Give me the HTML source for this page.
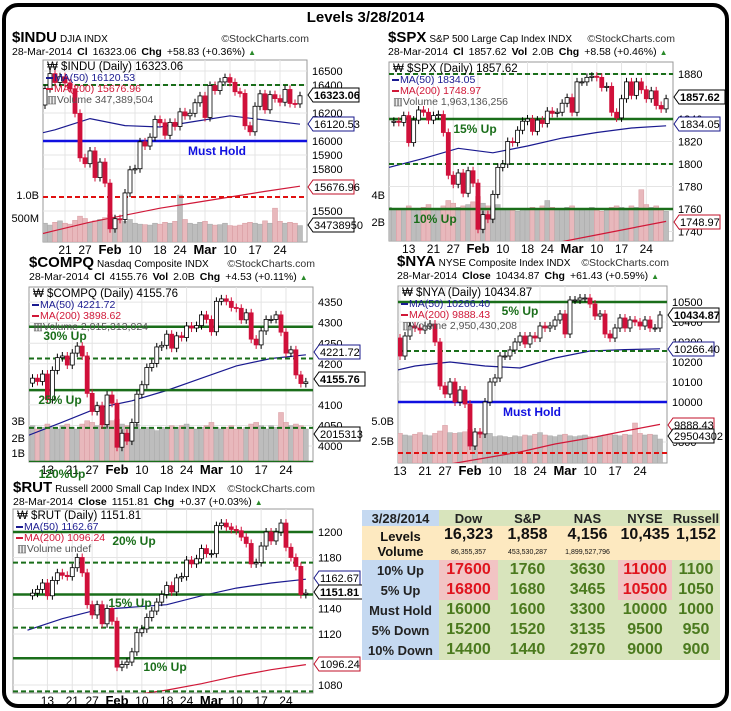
<!DOCTYPE html>
<html><head><meta charset="utf-8">
<style>
body{margin:0;width:731px;height:711px;background:#fff;font-family:"Liberation Sans",Arial,sans-serif;overflow:hidden;position:relative}
#frame{position:absolute;left:2px;top:3px;width:719px;height:697px;border:4px solid #000;border-radius:16px;box-sizing:content-box}
#title{position:absolute;left:0;width:731px;top:9px;text-align:center;font-weight:bold;font-size:15px}
svg{position:absolute;left:0;top:0}
#tbl{position:absolute;left:362px;top:510px;border-collapse:collapse;font-family:"Liberation Sans",Arial,sans-serif}
#tbl td{padding:0;text-align:center;font-weight:bold}
.lab{background:#c5d9f1;color:#222;font-size:13px}
.grn{background:#d8e4bc;color:#4b7a1e;font-size:16px}
.red{background:#f2c4c4;color:#e0141e;font-size:16px}
.hdr{background:#d8e4bc;color:#222;font-size:13px}
.lev{background:#fde9c0;color:#111}
</style></head><body>
<div id="frame"></div>
<div id="title">Levels 3/28/2014</div>
<svg id="svg" width="731" height="711"></svg>
<table id="tbl">
<tr style="height:16px"><td class="lab" style="width:77px">3/28/2014</td><td class="hdr" style="width:59px">Dow</td><td class="hdr" style="width:59px">S&amp;P</td><td class="hdr" style="width:61px">NAS</td><td class="hdr" style="width:54px">NYSE</td><td class="hdr" style="width:48px">Russell</td></tr>
<tr style="height:18px" class="lev"><td class="lev" style="font-size:13px;vertical-align:bottom">Levels</td><td class="lev" style="font-size:16px">16,323</td><td class="lev" style="font-size:16px">1,858</td><td class="lev" style="font-size:16px">4,156</td><td class="lev" style="font-size:16px">10,435</td><td class="lev" style="font-size:16px">1,152</td></tr>
<tr style="height:16px"><td class="lev" style="font-size:13px;vertical-align:top">Volume</td><td class="lev" style="font-size:7px;font-weight:normal">86,355,357</td><td class="lev" style="font-size:7px;font-weight:normal">453,530,287</td><td class="lev" style="font-size:7px;font-weight:normal">1,899,527,796</td><td class="lev"></td><td class="lev"></td></tr>
<tr style="height:20px"><td class="lab">10% Up</td><td class="red">17600</td><td class="grn">1760</td><td class="grn">3630</td><td class="red">11000</td><td class="grn">1100</td></tr>
<tr style="height:20px"><td class="lab">5% Up</td><td class="red">16800</td><td class="grn">1680</td><td class="grn">3465</td><td class="red">10500</td><td class="grn">1050</td></tr>
<tr style="height:20px"><td class="lab">Must Hold</td><td class="grn">16000</td><td class="grn">1600</td><td class="grn">3300</td><td class="grn">10000</td><td class="grn">1000</td></tr>
<tr style="height:20px"><td class="lab">5% Down</td><td class="grn">15200</td><td class="grn">1520</td><td class="grn">3135</td><td class="grn">9500</td><td class="grn">950</td></tr>
<tr style="height:20px"><td class="lab">10% Down</td><td class="grn">14400</td><td class="grn">1440</td><td class="grn">2970</td><td class="grn">9000</td><td class="grn">900</td></tr>
</table>
<script>
// shared date axis
const dateLabels=["13","21","27","Feb","10","18","24","Mar","10","17","24"];
const dateIdx=[4,9,13,18,23,28,32,37,42,47,52];
const maIdx=[0,7,14,21,28,35,42,49,56];
// INDU
const induClose=[16530,16462,16444,16437,16257,16374,16481,16418,16459,16415,16373,16197,15880,15838,15929,15739,15849,15699,15373,15445,15440,15629,15794,15802,15994,15964,16027,16154,16130,16041,16133,16104,16208,16180,16198,16273,16322,16168,16396,16360,16422,16453,16419,16352,16340,16109,16066,16248,16337,16223,16331,16303,16277,16368,16268,16265,16323];
const induVol=[0.42,0.40,0.38,0.37,0.43,0.40,0.36,0.42,0.45,0.40,0.38,0.46,0.55,0.50,0.42,0.45,0.48,0.52,0.58,0.50,0.46,0.44,0.48,0.40,0.38,0.37,0.36,0.40,0.38,0.42,0.40,0.44,1.00,0.48,0.40,0.38,0.42,0.44,0.38,0.36,0.37,0.40,0.35,0.34,0.36,0.40,0.42,0.40,0.38,0.45,0.40,0.72,0.44,0.40,0.42,0.40,0.35];
const induMa50=[16020,16080,16160,16110,16100,16140,16180,16150,16120];
const induMa200=[15300,15360,15420,15470,15520,15560,15600,15640,15677];
const induTicks=[16500,16400,16200,16000,15900,15800,15500];
// SPX
const spxClose=[1837,1838,1837,1843,1819,1839,1848,1846,1839,1843,1844,1828,1790,1782,1792,1774,1794,1783,1742,1755,1751,1773,1797,1800,1820,1819,1830,1838,1840,1829,1839,1836,1847,1845,1846,1854,1859,1846,1873,1873,1877,1878,1877,1868,1869,1846,1841,1858,1873,1861,1873,1866,1858,1865,1852,1849,1858];
const spxVol=[2.5,2.4,2.3,2.4,2.6,2.4,2.3,2.5,2.7,2.4,2.3,2.6,3.0,2.8,2.5,2.6,2.7,2.9,3.3,2.8,2.6,2.5,2.7,2.3,2.4,2.3,2.2,2.4,2.3,2.5,2.4,2.6,3.0,2.5,2.4,2.3,2.5,2.6,2.4,2.3,2.4,2.5,2.3,2.2,2.3,2.5,2.6,2.5,2.4,2.6,2.5,3.8,2.7,2.5,2.6,2.4,2.2];
const spxMa50=[1797,1805,1814,1810,1816,1823,1828,1832,1834];
const spxMa200=[1705,1710,1715,1720,1726,1731,1737,1743,1749];
const spxTicks=[1880,1840,1820,1800,1780,1760,1740];
// COMPQ
const compClose=[4153,4165,4157,4175,4113,4184,4215,4219,4197,4226,4243,4219,4128,4084,4098,4052,4124,4104,3997,4031,4012,4057,4126,4149,4191,4201,4241,4245,4272,4238,4268,4264,4292,4287,4293,4319,4308,4278,4352,4358,4352,4337,4335,4307,4324,4260,4246,4280,4308,4308,4319,4277,4226,4234,4173,4152,4156];
const compVol=[2.1,2.2,2.0,2.1,2.3,2.1,2.0,2.2,2.3,2.1,2.0,2.3,2.5,2.4,2.2,2.3,2.3,2.5,2.6,2.3,2.2,2.1,2.3,2.0,2.1,2.0,1.9,2.1,2.0,2.2,2.1,2.2,2.3,2.1,2.0,2.1,2.2,2.4,2.1,2.0,2.1,2.2,2.0,2.0,2.1,2.3,2.4,2.2,2.0,2.2,2.1,3.0,2.4,2.2,2.3,2.2,2.0];
const compMa50=[4025,4058,4092,4110,4135,4165,4195,4213,4222];
const compTicks=[4350,4300,4250,4200,4100,4050,4000];
// NYA
const nyaClose=[10310,10290,10280,10320,10230,10330,10380,10370,10360,10380,10390,10300,10080,10040,10100,10000,10060,9990,9780,9850,9840,10000,10100,10120,10230,10230,10260,10300,10330,10290,10330,10320,10380,10370,10380,10410,10440,10340,10510,10510,10520,10520,10490,10430,10440,10340,10320,10370,10420,10370,10410,10400,10380,10410,10370,10370,10435];
const nyaVol=[3.6,3.5,3.4,3.5,3.7,3.5,3.4,3.6,3.8,3.5,3.4,3.7,4.0,4.7,3.8,3.7,3.8,3.9,4.2,3.8,3.6,3.5,3.7,3.3,3.4,3.3,3.2,3.4,3.3,3.5,3.4,3.6,3.8,3.5,3.4,3.3,3.5,3.6,3.4,3.3,3.4,3.5,3.3,3.2,3.3,3.5,3.6,3.5,3.4,3.6,3.5,5.0,3.7,3.5,3.6,3.5,3.0];
const nyaMa50=[10140,10180,10200,10180,10170,10220,10255,10262,10266];
const nyaMa200=[9640,9665,9690,9720,9750,9790,9820,9855,9888];
const nyaTicks=[10500,10400,10300,10200,10100,10000,9800];
// RUT
const rutClose=[1150,1152,1155,1160,1150,1162,1168,1166,1165,1172,1180,1168,1143,1135,1143,1128,1140,1130,1094,1096,1098,1106,1121,1124,1133,1138,1145,1151,1158,1153,1164,1165,1178,1175,1179,1187,1183,1183,1205,1207,1204,1202,1201,1196,1191,1175,1176,1189,1200,1193,1200,1207,1188,1180,1173,1151,1152];
const rutMa50=[1123,1132,1139,1141,1143,1150,1156,1160,1163];
const rutMa200=[1060,1064,1068,1072,1076,1081,1087,1092,1096];
const rutTicks=[1200,1180,1140,1120,1080];

const NS="http://www.w3.org/2000/svg";
const svg=document.getElementById('svg');
function mk(tag,attrs,parent,txt){const e=document.createElementNS(NS,tag);for(const k in attrs)e.setAttribute(k,attrs[k]);if(txt!==undefined)e.textContent=txt;(parent||svg).appendChild(e);return e;}

const charts=[
 {id:'indu',sym:'$INDU',desc:'DJIA  INDX',l2:[['28-Mar-2014',0],['Cl',1],['16323.06',0],['Chg',1],['+58.83 (+0.36%)',0]],
  hx:12,hy:42,px0:43,px1:307,py0:60,py1:242,xFeb:110,dx:5,yRef:16000,yRefPx:141,k:0.14,
  close:induClose,vol:induVol,volK:47,volLabels:[['1.0B',195],['500M',218]],ma50:induMa50,ma200:induMa200,ticks:induTicks,tickX:312,
  legend:['$INDU (Daily) 16323.06','MA(50) 16120.53','MA(200) 15676.96','Volume 347,389,504'],
  lines:[[16400,'#1a6e1a',1],[16000,'#1010e0',0],[15600,'#e01010',1]],
  notes:[['Must Hold',217,155,'#1010e0']],
  tags:[['16323.06',95,'#000',1],['16120.53',124,'#1a1a8c',0],['15676.96',187,'#c0102a',0],['34738950',225,'#000',0]]},
 {id:'spx',sym:'$SPX',desc:'S&P 500 Large Cap Index  INDX',l2:[['28-Mar-2014',0],['Cl',1],['1857.62',0],['Vol',1],['2.0B',0],['Chg',1],['+8.58 (+0.46%)',0]],
  hx:388,hy:42,px0:389,px1:673,py0:62,py1:241,xFeb:478,dx:4.95,yRef:1800,yRefPx:164,k:1.125,
  close:spxClose,vol:spxVol,volK:13.5,volLabels:[['4B',195],['2B',222]],ma50:spxMa50,ma200:spxMa200,ticks:spxTicks,tickX:678,
  legend:['$SPX (Daily) 1857.62','MA(50) 1834.05','MA(200) 1748.97','Volume 1,963,136,256'],
  lines:[[1880,'#1a6e1a',1],[1840,'#1a6e1a',0],[1800,'#1a6e1a',1],[1760,'#1a6e1a',0]],
  notes:[['15% Up',475,133,'#1a6e1a'],['10% Up',435,223,'#1a6e1a']],
  tags:[['1857.62',97,'#000',1],['1834.05',124,'#1a1a8c',0],['1748.97',222,'#c0102a',0]]},
 {id:'compq',sym:'$COMPQ',desc:'Nasdaq Composite  INDX',l2:[['28-Mar-2014',0],['Cl',1],['4155.76',0],['Vol',1],['2.0B',0],['Chg',1],['+4.53 (+0.11%)',0]],
  hx:29,hy:267,px0:29,px1:313,py0:287,py1:462,xFeb:117,dx:4.97,yRef:4000,yRefPx:446,k:0.411,
  close:compClose,vol:compVol,volK:16.5,volLabels:[['3B',421],['2B',438],['1B',453]],ma50:compMa50,ma200:null,ticks:compTicks,tickX:318,
  legend:['$COMPQ (Daily) 4155.76','MA(50) 4221.72','MA(200) 3898.62','Volume 2,015,313,024'],
  lines:[[4290,'#1a6e1a',0],[4213,'#1a6e1a',1],[4136,'#1a6e1a',0],[4044,'#1a6e1a',1],[3961,'#1a6e1a',0]],
  notes:[['30% Up',65,340,'#1a6e1a'],['25% Up',60,404,'#1a6e1a'],['120%Up',62,478,'#1a6e1a']],
  tags:[['4221.72',352,'#1a1a8c',0],['4155.76',379,'#000',1],['2015313',434,'#000',0]]},
 {id:'nya',sym:'$NYA',desc:'NYSE Composite Index  INDX',l2:[['28-Mar-2014',0],['Close',1],['10434.87',0],['Chg',1],['+61.43 (+0.59%)',0]],
  hx:397,hy:266,px0:398,px1:667,py0:286,py1:463,xFeb:470,dx:5,yRef:10000,yRefPx:402,k:0.2,
  close:nyaClose,vol:nyaVol,volK:8,volLabels:[['5.0B',421],['2.5B',441]],ma50:nyaMa50,ma200:nyaMa200,ticks:nyaTicks,tickX:672,
  legend:['$NYA (Daily) 10434.87','MA(50) 10266.40','MA(200) 9888.43','Volume 2,950,430,208'],
  lines:[[10500,'#1a6e1a',0],[10255,'#1a6e1a',1],[10000,'#1010e0',0],[9745,'#e01010',1]],
  notes:[['5% Up',520,315,'#1a6e1a'],['Must Hold',532,416,'#1010e0']],
  tags:[['10434.87',315,'#000',1],['10266.40',349,'#1a1a8c',0],['9888.43',425,'#c0102a',0],['29504302',436,'#000',0]]},
 {id:'rut',sym:'$RUT',desc:'Russell 2000 Small Cap Index  INDX',l2:[['28-Mar-2014',0],['',0],['Close',1],['1151.81',0],['Chg',1],['+0.37 (+0.03%)',0]],
  hx:13,hy:492,px0:13,px1:313,py0:509,py1:693,xFeb:117,dx:4.97,yRef:1200,yRefPx:532,k:1.275,
  close:rutClose,vol:null,ma50:rutMa50,ma200:rutMa200,ticks:rutTicks,tickX:318,
  legend:['$RUT (Daily) 1151.81','MA(50) 1162.67','MA(200) 1096.24','Volume undef'],
  lines:[[1200,'#1a6e1a',0],[1176,'#1a6e1a',1],[1151,'#1a6e1a',0],[1125,'#1a6e1a',1],[1101,'#1a6e1a',0],[1075,'#1a6e1a',1]],
  notes:[['20% Up',134,545,'#1a6e1a'],['15% Up',130,607,'#1a6e1a'],['10% Up',165,671,'#1a6e1a']],
  tags:[['1162.67',578,'#1a1a8c',0],['1151.81',592,'#000',1],['1096.24',664,'#c0102a',0]]}
];

charts.forEach(c=>{
  const g=mk('g',{});
  
  
  const X=i=>c.xFeb+(i-18)*c.dx;
  const Y=v=>c.yRefPx-(v-c.yRef)*c.k;
  const clipId='clip-'+c.id;
  const defs=mk('defs',{},g);const cp=mk('clipPath',{id:clipId},defs);
  mk('rect',{x:c.px0,y:c.py0,width:c.px1-c.px0,height:c.py1-c.py0},cp);
  // header
  const h=mk('text',{x:c.hx,y:c.hy,'font-size':10},g);
  
  
  mk('tspan',{'font-size':15,'font-weight':'bold'},h,c.sym);
  mk('tspan',{dx:3},h,c.desc);
  const cr=mk('text',{x:c.px1+2,y:c.hy,'font-size':10.5,'text-anchor':'end',fill:'#333'},g,'©StockCharts.com');
  
  
  const l2=mk('text',{x:c.hx,y:c.hy+13,'font-size':10.5},g);
  c.l2.forEach((p,i)=>{mk('tspan',{dx:i?5:0,'font-weight':p[1]?'bold':'normal'},l2,p[0]);});
  mk('tspan',{dx:3,fill:'#2a8a2a','font-size':8},l2,'▲');
  // plot frame
  mk('rect',{x:c.px0,y:c.py0,width:c.px1-c.px0,height:c.py1-c.py0,fill:'#fff',stroke:'#999','stroke-width':1},g);
  const pg=mk('g',{'clip-path':'url(#'+clipId+')'},g);
  // grid
  c.ticks.forEach(t=>{mk('line',{x1:c.px0,x2:c.px1,y1:Y(t),y2:Y(t),stroke:'#e4e4e4'},pg);});
  dateIdx.forEach((d,i)=>{const x=X(d);mk('line',{x1:x,x2:x,y1:c.py0,y2:c.py1,stroke:'#e4e4e4'},pg);
    if(x>c.px0-2&&x<c.px1){const t=mk('text',{x:x,y:c.py1+12,'font-size':dateLabels[i].length>2?13:12,'font-weight':dateLabels[i].length>2?'bold':'normal','text-anchor':'middle'},g,dateLabels[i]);
    
    }});
  // volume
  if(c.vol){c.vol.forEach((v,i)=>{const up=i==0||c.close[i]>=c.close[i-1];const hgt=v*c.volK;
    const b=mk('rect',{x:X(i)-2.5,y:c.py1-hgt,width:5,height:hgt,fill:up?'#bdbdbd':'#e8b8bc',stroke:up?'#a8a8a8':'#d89aa0','stroke-width':0.5},pg);
    
    });
    c.volLabels.forEach(l=>{mk('text',{x:c.px0-4,y:l[1]+4,'font-size':11,'text-anchor':'end'},g,l[0]);});}
  // MAs
  const maPath=(arr,col)=>{const pts=arr.map((v,j)=>X(maIdx[j]).toFixed(1)+','+Y(v).toFixed(1)).join(' ');
    const p=mk('polyline',{points:pts,fill:'none',stroke:col,'stroke-width':1.2},pg);return p;};
  if(c.ma200){const p=maPath(c.ma200,'#d01838');}
  if(c.ma50){const p=maPath(c.ma50,'#1a1a90');}
  // level lines
  c.lines.forEach(l=>{const ln=mk('line',{x1:c.px0,x2:c.px1,y1:Y(l[0]),y2:Y(l[0]),stroke:l[1],'stroke-width':l[2]?2:2.5,'stroke-dasharray':l[2]?'5,3':'none'},pg);
    
    });
  // candles
  c.close.forEach((v,i)=>{if(i==0)return;const o=c.close[i-1];const up=v>=o;const x=X(i);
    const top=Y(Math.max(o,v)),bot=Y(Math.min(o,v));
    mk('line',{x1:x,x2:x,y1:top-4,y2:bot+4,stroke:up?'#000':'#d0103a','stroke-width':1},pg);
    const b=mk('rect',{x:x-2,y:top,width:4,height:Math.max(1,bot-top),fill:up?'#fff':'#d0103a',stroke:up?'#000':'#d0103a','stroke-width':0.8},pg);
    
    });
  // legend
  const lg=mk('g',{},g);
  
  
  const lcol=['#000','#1a1a90','#d01838','#555'];
  c.legend.forEach((s,i)=>{const ly=c.py0+10+i*11;
    if(i==1||i==2)mk('rect',{x:c.px0+3,y:ly-4,width:7,height:2,fill:lcol[i]},lg);
    mk('text',{x:c.px0+(i==0?4:i==3?4:11),y:ly,'font-size':i==0?11.5:10.5,fill:lcol[i]},lg,(i==0?'₩ ':i==3?'▥':'')+s);});
  // notes
  c.notes.forEach(n=>{const t=mk('text',{x:n[1],y:n[2],'font-size':12,'font-weight':'bold',fill:n[3],'text-anchor':'middle'},g,n[0]);
    
    });
  // ticks
  c.ticks.forEach(t=>{mk('text',{x:c.tickX,y:Y(t)+4,'font-size':11},g,String(t));});
  // tags
  c.tags.forEach(tg=>{const x=c.px1+1,y=tg[1],w=tg[3]?51:46;
    mk('path',{d:`M${x},${y} L${x+5},${y-7} L${x+w},${y-7} L${x+w},${y+7} L${x+5},${y+7} Z`,fill:'#fff',stroke:tg[2],'stroke-width':1},g);
    const t=mk('text',{x:x+6,y:y+4,'font-size':11,'font-weight':tg[3]?'bold':'normal',fill:'#000'},g,tg[0]);
    
    });
});
</script>
</body></html>
